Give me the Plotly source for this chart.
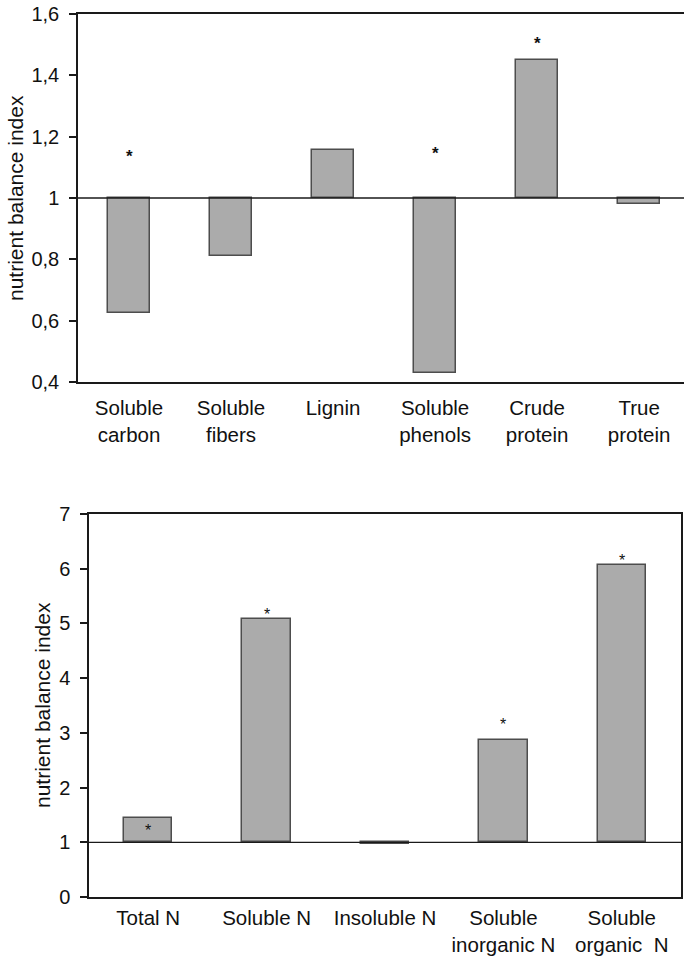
import plotly.graph_objects as go

# ---- data ----
top_categories = ["Soluble<br>carbon", "Soluble<br>fibers", "Lignin",
                  "Soluble<br>phenols", "Crude<br>protein", "True<br>protein"]
top_values = [0.626, 0.81, 1.155, 0.43, 1.45, 0.98]
top_star_y = [1.153, None, None, 1.16, 1.52, None]
top_ticks = [0.4, 0.6, 0.8, 1.0, 1.2, 1.4, 1.6]
top_ticktext = ["0,4", "0,6", "0,8", "1", "1,2", "1,4", "1,6"]

bot_categories = ["Total N", "Soluble N", "Insoluble N",
                  "Soluble<br>inorganic N", "Soluble<br>organic  N"]
bot_values = [1.44, 5.08, 0.97, 2.87, 6.07]
bot_star_y = [1.31, 5.25, None, 3.25, 6.24]
bot_ticks = [0, 1, 2, 3, 4, 5, 6, 7]

baseline = 1.0

FONT = "Liberation Sans, Arial, Helvetica, sans-serif"
BAR_FILL = "#ababab"
BAR_LINE = "#4d4d4d"
AX = "#1a1a1a"
FS_TICK = 20
FS_CAT = 20.5
FS_TITLE = 21

W, H = 684, 958

fig = go.Figure()

fig.add_trace(go.Bar(
    x=top_categories, y=[v - baseline for v in top_values], base=baseline,
    width=0.41, marker=dict(color=BAR_FILL, line=dict(color=BAR_LINE, width=1.5)),
    xaxis="x", yaxis="y", showlegend=False, hoverinfo="skip"))

fig.add_trace(go.Bar(
    x=bot_categories, y=[v - baseline for v in bot_values], base=baseline,
    width=0.41, marker=dict(color=BAR_FILL, line=dict(color=BAR_LINE, width=1.5)),
    xaxis="x2", yaxis="y2", showlegend=False, hoverinfo="skip"))

# baseline lines at 1
fig.add_shape(type="line", xref="x domain", yref="y", x0=0, x1=1, y0=baseline, y1=baseline,
              line=dict(color=AX, width=1.3), layer="above")
fig.add_shape(type="line", xref="x2 domain", yref="y2", x0=0, x1=1, y0=baseline, y1=baseline,
              line=dict(color=AX, width=1.3), layer="above")

# significance asterisks
for c, s in zip(top_categories, top_star_y):
    if s is not None:
        fig.add_annotation(x=c, y=s, xref="x", yref="y", text="<b>*</b>", showarrow=False,
                           xanchor="center", yanchor="middle",
                           font=dict(size=17, color="#111", family=FONT), yshift=-5)
for c, s in zip(bot_categories, bot_star_y):
    if s is not None:
        fig.add_annotation(x=c, y=s, xref="x2", yref="y2", text="*", showarrow=False,
                           xanchor="center", yanchor="middle",
                           font=dict(size=16, color="#111", family=FONT), yshift=-5)

# y axis titles
fig.add_annotation(x=15 / W, y=1 - 198 / H, xref="paper", yref="paper",
                   xanchor="center", yanchor="middle",
                   text="nutrient balance index", textangle=-90, showarrow=False,
                   font=dict(size=FS_TITLE, color="#111", family=FONT))
fig.add_annotation(x=42 / W, y=1 - 705 / H, xref="paper", yref="paper",
                   xanchor="center", yanchor="middle",
                   text="nutrient balance index", textangle=-90, showarrow=False,
                   font=dict(size=FS_TITLE, color="#111", family=FONT))

common = dict(showgrid=False, zeroline=False, automargin=False, fixedrange=True,
              showline=True, linecolor=AX, linewidth=1.5)

fig.update_layout(
    template="none",
    width=W, height=H, margin=dict(l=0, r=0, t=0, b=0, pad=0),
    paper_bgcolor="white", plot_bgcolor="white",
    font=dict(family=FONT, size=FS_TICK, color="#111"),
    bargap=0,
    xaxis=dict(domain=[78 / W, 1], range=[-0.5, 5.44], mirror=True, ticks="",
               ticklabelstandoff=7, tickfont=dict(size=FS_CAT), anchor="y", **common),
    yaxis=dict(domain=[1 - 382 / H, 1 - 14 / H], range=[0.4, 1.6], tickvals=top_ticks,
               ticktext=top_ticktext, mirror=False,
               ticks="outside", ticklen=7, tickcolor=AX, tickwidth=1.5,
               ticklabelstandoff=6, anchor="x", **common),
    xaxis2=dict(domain=[89 / W, 681 / W], range=[-0.5, 4.5], mirror=True, ticks="",
                ticklabelstandoff=2, tickfont=dict(size=FS_CAT), anchor="y2", **common),
    yaxis2=dict(domain=[1 - 897 / H, 1 - 514 / H], range=[0, 7], tickvals=bot_ticks,
                mirror=True, ticks="outside", ticklen=7, tickcolor=AX, tickwidth=1.5,
                ticklabelstandoff=6, anchor="x2", **common),
)

fig.write_html("out.html")
